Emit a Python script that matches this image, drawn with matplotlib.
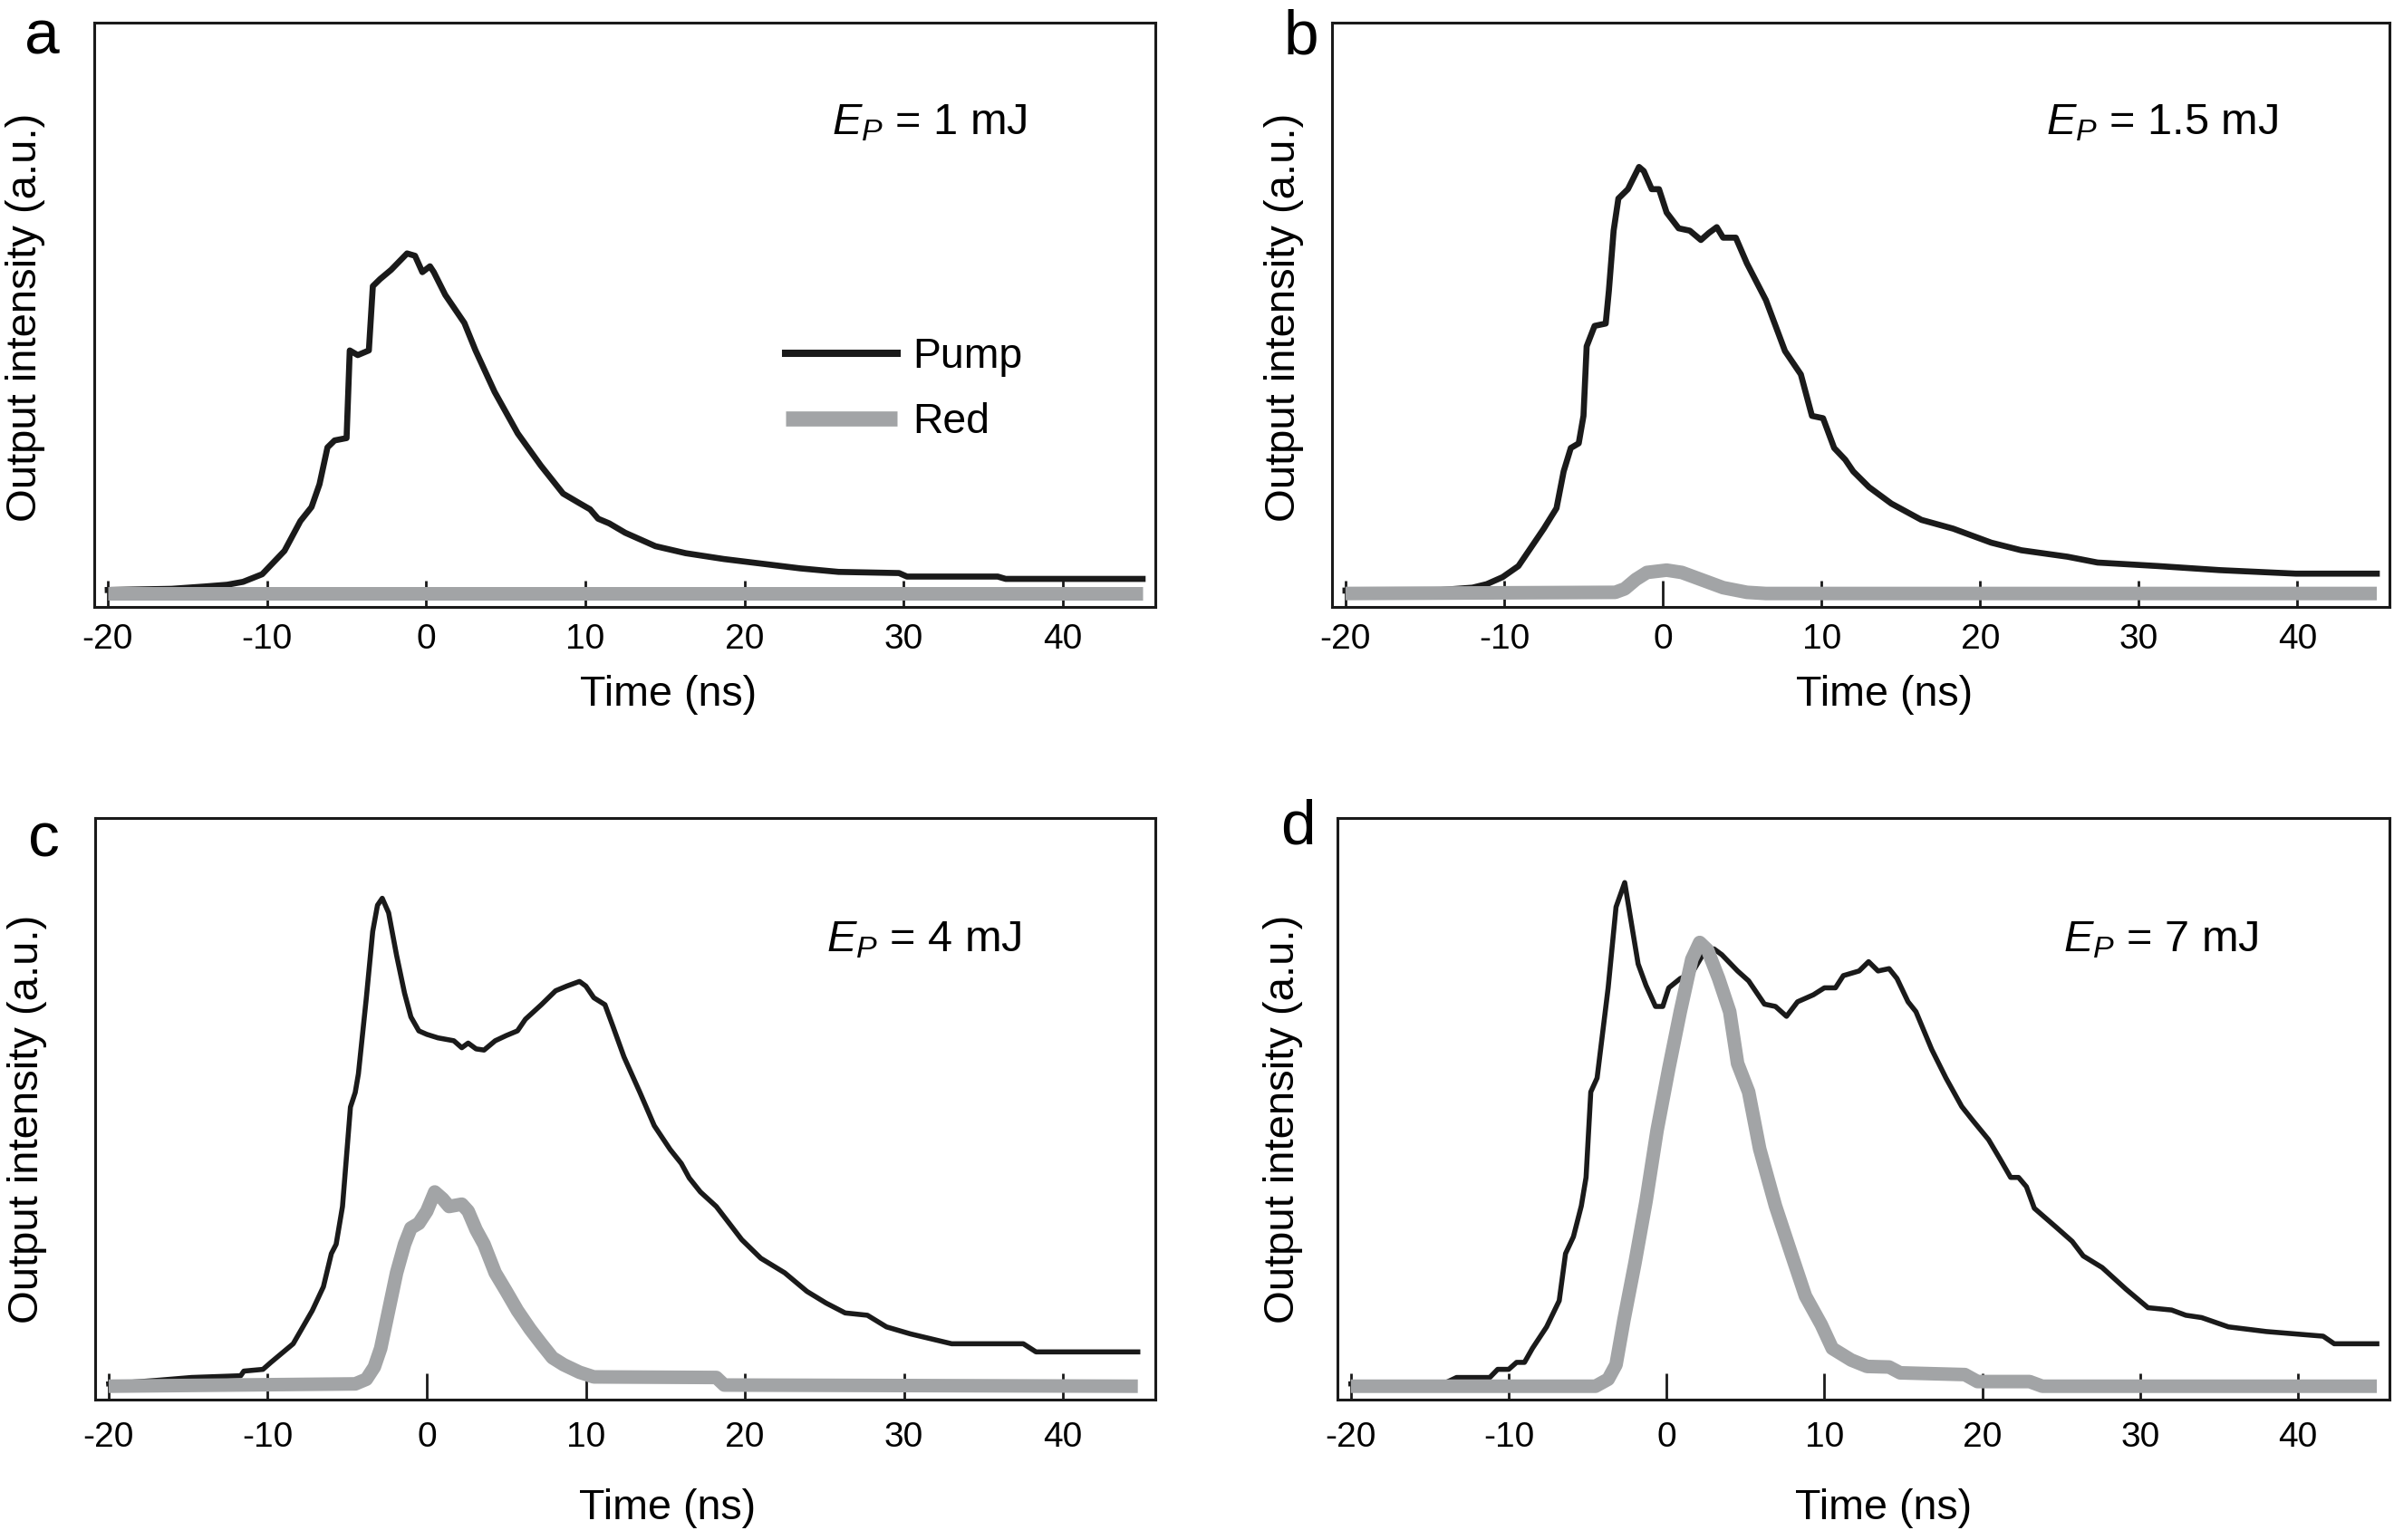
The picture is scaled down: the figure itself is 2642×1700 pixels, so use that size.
import matplotlib
matplotlib.use("Agg")
import matplotlib.pyplot as plt

plt.rcParams['font.family'] = ['Liberation Sans', 'DejaVu Sans']
plt.rcParams['mathtext.fontset'] = 'custom'
plt.rcParams['mathtext.rm'] = 'Liberation Sans'
plt.rcParams['mathtext.it'] = 'Liberation Sans:italic'
plt.rcParams['axes.unicode_minus'] = False

# ---- data (time in ns, intensity in a.u.) ----
t_pump_a = [-20, -16, -13.9, -12.5, -11.5, -10.3, -8.9, -7.9, -7.2, -6.7, -6.2, -5.75, -5.0,
            -4.8, -4.3, -3.6, -3.35, -2.9, -2.2, -1.2, -0.7, -0.24, 0.24, 0.48, 1.2, 2.4,
            3.1, 4.3, 5.75, 7.2, 8.6, 9.6, 10.3, 10.8, 11.5, 12.5, 14.4, 16.3, 18.7, 21.1,
            23.5, 25.9, 29.7, 30.2, 35.9, 36.4, 45.0]
pump_a = [0.006, 0.008, 0.012, 0.015, 0.020, 0.033, 0.073, 0.124, 0.148, 0.187, 0.250, 0.262,
          0.266, 0.416, 0.408, 0.416, 0.526, 0.538, 0.554, 0.582, 0.578, 0.550, 0.560, 0.550,
          0.511, 0.463, 0.416, 0.345, 0.274, 0.219, 0.171, 0.155, 0.144, 0.128, 0.120, 0.104,
          0.081, 0.069, 0.059, 0.051, 0.043, 0.037, 0.035, 0.029, 0.029, 0.025, 0.025]
t_red_a = [-20, 45]
red_a = [0.0, 0.0]

t_pump_b = [-20, -14, -12.0, -11.1, -10.1, -9.1, -8.2, -7.5, -6.7, -6.25, -5.8, -5.3, -5.0,
            -4.8, -4.3, -3.6, -3.4, -3.1, -2.8, -2.2, -1.5, -1.2, -0.7, -0.24, 0.24, 1.0,
            1.7, 2.4, 2.9, 3.4, 3.8, 4.6, 5.3, 6.5, 7.7, 8.7, 9.4, 10.1, 10.8, 11.5, 12.0,
            13.0, 14.4, 16.3, 18.3, 20.7, 22.6, 25.5, 27.4, 31.2, 35.1, 39.9, 45.0]
pump_b = [0.005, 0.006, 0.010, 0.016, 0.028, 0.047, 0.083, 0.111, 0.146, 0.209, 0.249, 0.257,
          0.304, 0.423, 0.458, 0.462, 0.518, 0.621, 0.676, 0.692, 0.730, 0.723, 0.692, 0.692,
          0.652, 0.625, 0.621, 0.605, 0.617, 0.627, 0.609, 0.609, 0.565, 0.502, 0.415, 0.375,
          0.304, 0.300, 0.249, 0.229, 0.209, 0.182, 0.154, 0.126, 0.111, 0.087, 0.074, 0.063,
          0.053, 0.047, 0.040, 0.034, 0.034]
t_red_b = [-20, -3.0, -2.4, -1.7, -1.0, 0.24, 1.2, 2.4, 3.8, 5.3, 6.5, 45]
red_b = [0.0, 0.002, 0.008, 0.024, 0.036, 0.040, 0.036, 0.024, 0.010, 0.002, 0.0, 0.0]

t_pump_c = [-20, -17.0, -14.8, -11.7, -11.5, -10.3, -9.8, -8.4, -7.2, -6.5, -6.0, -5.7, -5.3,
            -4.8, -4.5, -4.3, -3.8, -3.4, -3.1, -2.8, -2.4, -1.9, -1.4, -1.0, -0.5, 0.0,
            0.7, 1.7, 2.2, 2.6, 3.1, 3.6, 4.3, 5.0, 5.7, 6.2, 7.2, 8.1, 8.8, 9.6, 10.0,
            10.5, 11.2, 11.7, 12.4, 13.4, 14.3, 15.3, 16.0, 16.5, 17.2, 18.2, 19.1, 19.8,
            21.0, 22.5, 23.9, 25.1, 26.3, 27.7, 28.9, 30.4, 33.0, 37.5, 38.3, 44.7]
pump_c = [0.004, 0.010, 0.015, 0.018, 0.026, 0.029, 0.041, 0.073, 0.130, 0.171, 0.228, 0.244,
          0.309, 0.480, 0.505, 0.537, 0.668, 0.782, 0.827, 0.839, 0.814, 0.741, 0.676, 0.635,
          0.611, 0.605, 0.599, 0.594, 0.582, 0.590, 0.580, 0.578, 0.594, 0.603, 0.611, 0.631,
          0.656, 0.680, 0.688, 0.696, 0.688, 0.668, 0.656, 0.619, 0.566, 0.505, 0.448, 0.407,
          0.383, 0.358, 0.334, 0.309, 0.277, 0.252, 0.220, 0.195, 0.163, 0.143, 0.126, 0.122,
          0.102, 0.090, 0.073, 0.073, 0.059, 0.059]
t_red_c = [-20, -4.5, -3.8, -3.3, -2.9, -2.4, -1.9, -1.4, -1.0, -0.5, 0.0, 0.5, 1.0, 1.4,
           2.2, 2.6, 3.1, 3.6, 4.3, 5.0, 5.7, 6.5, 7.2, 7.9, 8.6, 9.6, 10.5, 18.2, 18.7, 44.7]
red_c = [0.0, 0.004, 0.012, 0.033, 0.065, 0.130, 0.195, 0.244, 0.272, 0.280, 0.301, 0.334,
         0.322, 0.309, 0.313, 0.301, 0.269, 0.244, 0.195, 0.163, 0.130, 0.098, 0.073, 0.049,
         0.037, 0.024, 0.016, 0.015, 0.002, 0.0]

t_pump_d = [-20, -14, -13.3, -11.2, -10.7, -10.0, -9.5, -9.0, -8.5, -7.6, -6.8, -6.4, -5.9,
            -5.4, -5.1, -4.8, -4.4, -3.7, -3.2, -2.65, -2.3, -1.8, -1.3, -0.7, -0.24, 0.14,
            0.87, 1.6, 2.3, 3.0, 3.5, 4.5, 5.2, 6.2, 6.9, 7.6, 8.3, 9.3, 10.0, 10.7, 11.2,
            12.2, 12.8, 13.4, 14.1, 14.6, 15.3, 15.8, 16.8, 17.7, 18.7, 19.4, 20.4, 21.1,
            21.8, 22.3, 22.8, 23.3, 24.7, 25.7, 26.4, 27.6, 29.1, 30.5, 32.0, 32.9, 33.9,
            35.6, 38.0, 41.6, 42.3, 45.0]
pump_d = [0.004, 0.006, 0.015, 0.015, 0.029, 0.029, 0.041, 0.041, 0.065, 0.102, 0.147, 0.228,
          0.257, 0.310, 0.359, 0.506, 0.530, 0.685, 0.824, 0.866, 0.808, 0.726, 0.689, 0.653,
          0.653, 0.685, 0.701, 0.710, 0.742, 0.752, 0.742, 0.714, 0.697, 0.657, 0.653, 0.636,
          0.661, 0.673, 0.685, 0.685, 0.706, 0.714, 0.730, 0.714, 0.718, 0.701, 0.661, 0.644,
          0.579, 0.530, 0.481, 0.457, 0.424, 0.392, 0.359, 0.359, 0.343, 0.306, 0.273, 0.249,
          0.224, 0.204, 0.167, 0.135, 0.131, 0.122, 0.118, 0.102, 0.094, 0.086, 0.073, 0.073]
t_red_d = [-20, -4.5, -3.7, -3.2, -2.7, -2.0, -1.3, -0.6, 0.14, 0.87, 1.6, 2.1, 2.6, 3.3,
           4.0, 4.5, 5.2, 5.9, 6.9, 7.9, 8.8, 9.8, 10.5, 11.7, 12.7, 14.1, 14.8, 18.9, 19.7,
           23.0, 23.8, 45]
red_d = [0.0, 0.0, 0.012, 0.037, 0.114, 0.212, 0.318, 0.440, 0.546, 0.644, 0.734, 0.763,
         0.750, 0.701, 0.644, 0.555, 0.506, 0.408, 0.310, 0.228, 0.155, 0.106, 0.065, 0.045,
         0.034, 0.033, 0.023, 0.020, 0.008, 0.008, 0.0, 0.0]

energies = ['1', '1.5', '4', '7']
letters = ['a', 'b', 'c', 'd']
xticks = [-20, -10, 0, 10, 20, 30, 40]

W, H = 2642, 1700
fig = plt.figure(figsize=(W / 200, H / 200), dpi=200)

# axes boxes in pixels: left, top, right, bottom
boxes = [(104, 25, 1275, 670), (1470, 25, 2637, 670),
         (105, 903, 1275, 1545), (1476, 903, 2637, 1545)]
pumps = [(t_pump_a, pump_a), (t_pump_b, pump_b), (t_pump_c, pump_c), (t_pump_d, pump_d)]
reds = [(t_red_a, red_a), (t_red_b, red_b), (t_red_c, red_c), (t_red_d, red_d)]
pump_lw = [2.4, 2.4, 2.0, 2.0]
ylab_x = [-0.065, -0.045, -0.064, -0.052]
ylab_y = [0.495, 0.495, 0.483, 0.483]
xlab_x = [0.541, 0.522, 0.540, 0.519]
xlab_y = [-0.150, -0.150, -0.187, -0.187]
tick_pad = [6.5, 6.5, 8.6, 8.6]
ann_xy = [(0.695, 0.809), (0.675, 0.809), (0.690, 0.770), (0.690, 0.770)]
letter_xy = [(46, 60), (1436, 59), (48, 945), (1432, 932)]

gray = '#a2a4a6'
black = '#1a1a1a'

for i in range(4):
    l, t, r, b = boxes[i]
    ax = fig.add_axes([l / W, 1 - b / H, (r - l) / W, (b - t) / H])
    tp, yp = pumps[i]
    tr, yr = reds[i]
    ax.plot(tp, yp, color=black, lw=pump_lw[i], zorder=1.5, solid_joinstyle='round',
            label='Pump')
    ax.plot(tr, yr, color=gray, lw=5.4, zorder=2, solid_joinstyle='round',
            solid_capstyle='butt', label='Red')
    ax.set_xlim(-20.85, 45.8)
    ax.set_ylim(-0.023, 0.977)
    ax.set_xticks(xticks)
    ax.set_yticks([])
    ax.tick_params(axis='x', direction='in', length=10.5, width=1.0, pad=tick_pad[i],
                   labelsize=14, color=black)
    for s in ax.spines.values():
        s.set_linewidth(1.1)
        s.set_color(black)
    ax.set_xlabel('Time (ns)', fontsize=16.8, va='center')
    ax.xaxis.set_label_coords(xlab_x[i], xlab_y[i])
    ax.set_ylabel('Output intensity (a.u.)', fontsize=17, va='center')
    ax.yaxis.set_label_coords(ylab_x[i], ylab_y[i])
    ax.text(ann_xy[i][0], ann_xy[i][1], r'$E_P$ = %s mJ' % energies[i],
            transform=ax.transAxes, fontsize=17.5, ha='left', va='baseline')
    fig.text(letter_xy[i][0] / W, 1 - letter_xy[i][1] / H, letters[i], fontsize=25,
             ha='center', va='baseline')
    if i == 0:
        leg = ax.legend(loc='center left', bbox_to_anchor=(0.652, 0.372), frameon=False,
                        fontsize=16.7, handlelength=2.65, handletextpad=0.37,
                        labelspacing=0.6, borderpad=0, borderaxespad=0)
        leg.get_lines()[0].set_linewidth(2.9)
        leg.get_lines()[1].set_linewidth(6.0)

fig.savefig('out.png', dpi=200)
